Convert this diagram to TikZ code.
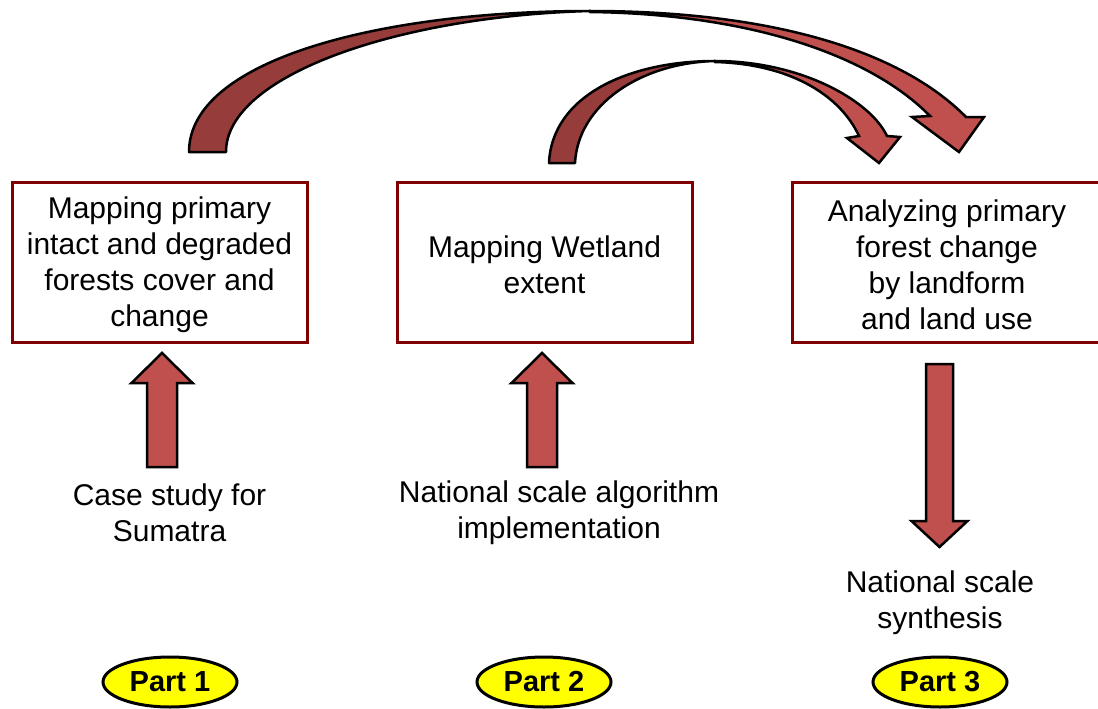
\documentclass[tikz,border=0pt]{standalone}
\usepackage{fontspec}
\setmainfont{Liberation Sans}
\usetikzlibrary{shapes.geometric}
\definecolor{boxred}{RGB}{128,0,0}
\definecolor{arrowfill}{RGB}{192,80,77}
\definecolor{arrowdark}{RGB}{150,60,58}
\definecolor{partyellow}{RGB}{255,255,0}
\tikzset{
  stepbox/.style={draw=boxred, line width=3pt, fill=white, minimum width=295pt, minimum height=160pt, inner sep=0pt},
  lbl/.style={align=center, inner sep=0pt, font=\fontsize{30}{36}\selectfont},
  part/.style={ellipse, draw=black, line width=3pt, fill=partyellow, minimum width=134pt, minimum height=50pt, inner sep=0pt, font=\fontsize{29}{34}\selectfont\bfseries},
  blockarrow/.style={draw=black, line width=2.5pt, fill=arrowfill, line join=miter},
  backribbon/.style={draw=black, line width=2.5pt, fill=arrowdark, line join=round},
  frontribbon/.style={draw=black, line width=2.5pt, fill=arrowfill, line join=miter},
}
\begin{document}
\begin{tikzpicture}[x=1pt, y=-1pt]
\useasboundingbox (0,0) rectangle (1098,709);
\fill[white] (0,0) rectangle (1098,709);

% boxes
\node[stepbox] (b1) at (159.5,262) {};
\node[stepbox] (b2) at (544.5,262) {};
\node[stepbox, minimum width=310pt] (b3) at (947,262) {};
\node[lbl] (b1t) at (159.5,265) {Mapping primary\\intact and degraded\\forests cover and\\change};
\node[lbl] (b2t) at (544.5,265) {Mapping Wetland\\extent};
\node[lbl] (b3t) at (947,265) {Analyzing primary\\forest change\\by landform\\and land use};

% bottom labels
\node[lbl] (t1) at (169.5,512.5) {Case study for\\Sumatra};
\node[lbl] (t2) at (559,512.5) {National scale algorithm\\implementation};
\node[lbl] (t3) at (940,603) {National scale\\synthesis};

% part ellipses
\node[part] (p1) at (170,682) {Part 1};
\node[part] (p2) at (544,682) {Part 2};
\node[part] (p3) at (940,682) {Part 3};

% straight block arrows
\draw[blockarrow] (147,467) -- (147,383) -- (131.5,383) -- (162,353) -- (192.5,383) -- (177,383) -- (177,467) -- cycle;
\draw[blockarrow] (527,467) -- (527,383) -- (511.5,383) -- (542,353) -- (572.5,383) -- (557,383) -- (557,467) -- cycle;
\draw[blockarrow] (926,364) -- (926,521) -- (911.5,521) -- (939.5,547) -- (967.5,521) -- (953,521) -- (953,364) -- cycle;

% big curved arrow (box 1 -> box 3)
\draw[backribbon] (189,152) .. controls (189,60) and (380,11) .. (590,11)
   .. controls (400,16) and (226,75) .. (226,152) -- cycle;
\draw[frontribbon] (590,11) .. controls (770,11) and (900,50) .. (966,117)
   -- (984,117) -- (959,152) -- (912,117) -- (930,116)
   .. controls (870,55) and (750,14) .. (590,12) -- cycle;

% small curved arrow (box 2 -> box 3)
\draw[backribbon] (549,163) .. controls (552,95) and (630,61) .. (715,61)
   .. controls (640,63) and (578,105) .. (575,163) -- cycle;
\draw[frontribbon] (715,61) .. controls (800,61) and (870,100) .. (887,136)
   -- (900,137) -- (879,163) -- (847,138) -- (859,136)
   .. controls (840,95) and (790,64) .. (715,62) -- cycle;
\end{tikzpicture}
\end{document}
